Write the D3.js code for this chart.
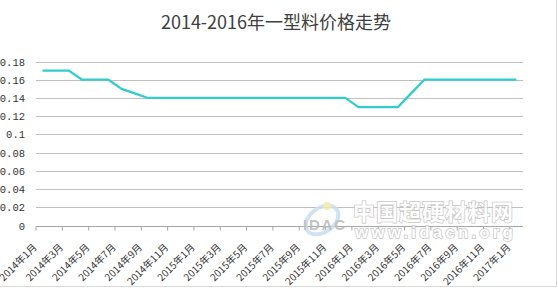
<!DOCTYPE html>
<html>
<head>
<meta charset="utf-8">
<script src="https://cdn.jsdelivr.net/npm/d3@7/dist/d3.min.js"></script>
<style>
  body { margin: 0; background: #fff; }
  svg { display: block; }
</style>
</head>
<body>
<div id="chart"></div>
<script>
// 2014-2016年一型料价格走势
var title = "2014-2016年一型料价格走势";

// 月度分类 (每两个月显示一个标签)
var months = [
  "2014年1月","2014年2月","2014年3月","2014年4月","2014年5月","2014年6月",
  "2014年7月","2014年8月","2014年9月","2014年10月","2014年11月","2014年12月",
  "2015年1月","2015年2月","2015年3月","2015年4月","2015年5月","2015年6月",
  "2015年7月","2015年8月","2015年9月","2015年10月","2015年11月","2015年12月",
  "2016年1月","2016年2月","2016年3月","2016年4月","2016年5月","2016年6月",
  "2016年7月","2016年8月","2016年9月","2016年10月","2016年11月","2016年12月",
  "2017年1月"
];

var prices = [
  0.17, 0.17, 0.17, 0.16, 0.16, 0.16,
  0.15, 0.145, 0.14, 0.14, 0.14, 0.14,
  0.14, 0.14, 0.14, 0.14, 0.14, 0.14,
  0.14, 0.14, 0.14, 0.14, 0.14, 0.14,
  0.13, 0.13, 0.13, 0.13, 0.145, 0.16,
  0.16, 0.16, 0.16, 0.16, 0.16, 0.16,
  0.16
];

var yTicks = [0, 0.02, 0.04, 0.06, 0.08, 0.1, 0.12, 0.14, 0.16, 0.18];

var width = 558, height = 288;
var plot = {left: 36, right: 523, top: 61.5, bottom: 225.5};

var svg = d3.select("#chart").append("svg")
  .attr("width", width)
  .attr("height", height);

var x = d3.scaleBand().domain(months).range([plot.left, plot.right]).padding(0);
var y = d3.scaleLinear().domain([0, 0.18]).range([plot.bottom, plot.top]);

var cx = function(d){ return x(d) + x.bandwidth()/2; };

// 标题
svg.append("text")
  .attr("x", 276).attr("y", 29)
  .attr("text-anchor", "middle")
  .attr("font-family", "'Noto Sans CJK SC', sans-serif")
  .attr("font-size", "18px")
  .style("fill", "#404040")
  .text(title);

// 网格线
svg.selectAll(".grid")
  .data(yTicks.filter(function(d){ return d > 0; }))
  .enter().append("line")
  .attr("class", "grid")
  .attr("x1", plot.left).attr("x2", plot.right)
  .attr("y1", function(d){ return Math.round(y(d)) + 0.5; })
  .attr("y2", function(d){ return Math.round(y(d)) + 0.5; })
  .attr("stroke", "#c0c0c0")
  .attr("stroke-width", 1);

// y轴标签
svg.selectAll(".ylab")
  .data(yTicks)
  .enter().append("text")
  .attr("class", "ylab")
  .attr("x", 25)
  .attr("y", function(d){ return y(d) + 4; })
  .attr("text-anchor", "end")
  .attr("font-family", "'Liberation Mono', monospace")
  .attr("font-size", "10.5px")
  .style("fill", "#333")
  .text(function(d){ return String(d); });

// x轴
var xAxis = d3.axisBottom(x)
  .tickValues(months.filter(function(d, i){ return i % 2 === 0; }))
  .tickSize(4)
  .tickFormat("");
var gx = svg.append("g")
  .attr("transform", "translate(0," + (Math.round(plot.bottom) + 0.5) + ")")
  .call(xAxis);
gx.select(".domain").attr("stroke", "#a6a6a6").attr("d", "M" + plot.left + ",0H" + plot.right);
gx.selectAll(".tick line")
  .attr("stroke", "#a6a6a6")
  .attr("transform", "translate(" + (-x.bandwidth()/2) + ",0)");

// x轴标签 (旋转)
svg.selectAll(".xlab")
  .data(months.filter(function(d, i){ return i % 2 === 0; }))
  .enter().append("text")
  .attr("class", "xlab")
  .attr("transform", function(d){ return "translate(" + (cx(d) - 5) + ",248) rotate(-45)"; })
  .attr("text-anchor", "end")
  .attr("font-family", "'Noto Sans CJK SC', sans-serif")
  .attr("font-size", "10px")
  .style("fill", "#333")
  .text(function(d){ return d; });

// 水印
var wm = svg.append("g").attr("class", "watermark").style("opacity", 0.85);
wm.append("ellipse")
  .attr("cx", 322).attr("cy", 220).attr("rx", 18).attr("ry", 12)
  .attr("transform", "rotate(-35,322,220)")
  .attr("fill", "none").attr("stroke", "#c9dff2").attr("stroke-width", 4);
wm.append("circle")
  .attr("cx", 327).attr("cy", 206).attr("r", 4)
  .attr("fill", "#f3e9a8");
wm.append("text")
  .attr("x", 303).attr("y", 230)
  .attr("textLength", 42)
  .attr("font-family", "'Liberation Sans', sans-serif")
  .attr("font-weight", "bold")
  .attr("font-size", "15px")
  .style("fill", "#b8b8b8")
  .text("IDAC");
wm.append("text")
  .attr("x", 353).attr("y", 220)
  .attr("textLength", 160)
  .attr("font-family", "'Noto Sans CJK SC', sans-serif")
  .attr("font-weight", "bold")
  .attr("font-size", "22px")
  .style("fill", "#ffffff")
  .style("stroke", "#bdbdbd")
  .style("stroke-width", 1.5)
  .style("paint-order", "stroke")
  .text("中国超硬材料网");
wm.append("text")
  .attr("x", 355).attr("y", 238)
  .attr("textLength", 158)
  .attr("font-family", "'Liberation Sans', sans-serif")
  .attr("font-weight", "bold")
  .attr("font-size", "17px")
  .style("fill", "#ffffff")
  .style("stroke", "#bdbdbd")
  .style("stroke-width", 1.5)
  .style("paint-order", "stroke")
  .text("www.idacn.org");

// 价格折线
var line = d3.line()
  .x(function(d, i){ return cx(months[i]); })
  .y(function(d){ return y(d); });

svg.append("path")
  .datum(prices)
  .attr("fill", "none")
  .attr("stroke", "#33cccc")
  .attr("stroke-width", 2.25)
  .attr("stroke-linejoin", "round")
  .attr("d", line);

// 图表边框
svg.append("line")
  .attr("x1", 556.5).attr("x2", 556.5).attr("y1", 0).attr("y2", 287)
  .attr("stroke", "#d9d9d9");
svg.append("line")
  .attr("x1", 0).attr("x2", 557).attr("y1", 286.5).attr("y2", 286.5)
  .attr("stroke", "#d9d9d9");
</script>
</body>
</html>
